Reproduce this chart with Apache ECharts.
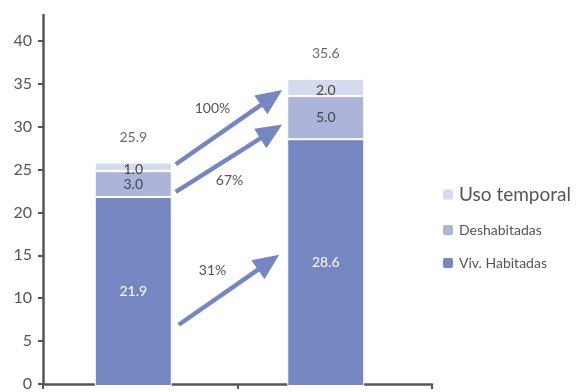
<!DOCTYPE html>
<html><head><meta charset="utf-8">
<script src="https://cdn.jsdelivr.net/npm/echarts@6/dist/echarts.min.js"></script>
<style>html,body{margin:0;padding:0;background:#fff}#c{width:577px;height:392px}</style>
</head><body><div id="c"></div>
<script>
var categories = ['2001', '2011'];
var habitadas = [21.9, 28.6];
var deshabitadas = [3.0, 5.0];
var usoTemporal = [1.0, 2.0];
var totals = [25.9, 35.6];
var yTicks = [0, 5, 10, 15, 20, 25, 30, 35, 40];
// growth arrows: [label, start value at cat 0, end value at cat 1]
var arrowLabels = ['100%', '67%', '31%'];
var arrowFrom = [25.7, 22.5, 7.1];
var arrowTo = [34.3, 30.3, 15.2];

var FONT = 'Lato, "DejaVu Sans", sans-serif';
var C1 = '#7686C1', C2 = '#ACB4DA', C3 = '#D5DAEE', GRAY = '#555';
var chart = echarts.init(document.getElementById('c'));
var barW = 77;
function segLabel(color) {
  return {show: true, position: 'inside', color: color, fontFamily: FONT, fontSize: 14,
    formatter: function (p) { return p.value.toFixed(1); }};
}
chart.setOption({
  animation: false,
  grid: [
    {left: 37, right: 155, top: 15, bottom: 6},
    {left: 43, right: 145, top: 15, bottom: 6}
  ],
  legend: {
    orient: 'vertical', left: 441, top: 185, padding: 0, itemWidth: 12, itemHeight: 12, itemGap: 19,
    data: ['Uso temporal', 'Deshabitadas', 'Viv. Habitadas'],
    textStyle: {fontFamily: FONT, fontSize: 14, color: GRAY,
      rich: {big: {fontFamily: FONT, fontSize: 19, color: GRAY}}},
    formatter: function (n) { return n === 'Uso temporal' ? '{big|' + n + '}' : n; }
  },
  xAxis: [
    {type: 'category', data: categories, gridIndex: 0,
      axisLine: {show: false}, axisTick: {show: false}, axisLabel: {show: false}},
    {type: 'category', data: categories, gridIndex: 1,
      axisLine: {lineStyle: {color: GRAY, width: 2.5}},
      axisTick: {show: true, length: 5, lineStyle: {color: GRAY, width: 2}},
      axisLabel: {show: false}}
  ],
  yAxis: [
    {type: 'value', min: 0, max: 43, gridIndex: 0, show: false},
    {type: 'value', min: 0, max: 43, gridIndex: 1,
      splitLine: {show: false},
      axisLine: {show: true, lineStyle: {color: GRAY, width: 2.5}},
      axisTick: {show: true, length: 5, customValues: yTicks, lineStyle: {color: GRAY, width: 2}},
      axisLabel: {customValues: yTicks, color: GRAY, fontFamily: FONT, fontSize: 16, margin: 11}}
  ],
  series: [
    {name: 'Viv. Habitadas', type: 'bar', stack: 's', barWidth: barW, data: habitadas,
      itemStyle: {color: C1, borderColor: '#fff', borderWidth: 1}, label: segLabel('#fff')},
    {name: 'Deshabitadas', type: 'bar', stack: 's', barWidth: barW, data: deshabitadas,
      itemStyle: {color: C2, borderColor: '#fff', borderWidth: 1}, label: segLabel('#444')},
    {name: 'Uso temporal', type: 'bar', stack: 's', barWidth: barW, data: usoTemporal,
      itemStyle: {color: C3, borderColor: '#fff', borderWidth: 1},
      label: Object.assign(segLabel('#444'), {offset: [0, 3]})},
    {name: 'Total', type: 'scatter', data: totals, symbolSize: 0, silent: true,
      label: {show: true, position: 'top', distance: 18, color: '#444', fontFamily: FONT, fontSize: 14,
        formatter: function (p) { return p.value.toFixed(1); }}}
  ]
});

function drawArrows() {
  var els = [];
  for (var i = 0; i < arrowLabels.length; i++) {
    var a = chart.convertToPixel({xAxisIndex: 0, yAxisIndex: 0}, [0, arrowFrom[i]]);
    var b = chart.convertToPixel({xAxisIndex: 0, yAxisIndex: 0}, [1, arrowTo[i]]);
    var x0 = a[0] + barW / 2 + 4 + (i === 2 ? 3 : 0), y0 = a[1];
    var x1 = b[0] - barW / 2 - 5 - (i === 2 ? 3 : 0), y1 = b[1];
    var dx = x1 - x0, dy = y1 - y0, L = Math.sqrt(dx * dx + dy * dy);
    var ux = dx / L, uy = dy / L, px = -uy, py = ux;
    var hl = 26, hw = 11.5;
    var bx = x1 - ux * hl, by = y1 - uy * hl;
    els.push({type: 'line', shape: {x1: x0, y1: y0, x2: bx + ux * 2, y2: by + uy * 2},
      style: {stroke: C1, lineWidth: 4.5}, silent: true});
    els.push({type: 'polygon', shape: {points: [[x1, y1], [bx + px * hw, by + py * hw], [bx - px * hw, by - py * hw]]},
      style: {fill: C1}, silent: true});
  }
  for (var j = 0; j < arrowLabels.length; j++) {
    var a2 = chart.convertToPixel({xAxisIndex: 0, yAxisIndex: 0}, [0, arrowFrom[j]]);
    var b2 = chart.convertToPixel({xAxisIndex: 0, yAxisIndex: 0}, [1, arrowTo[j]]);
    var mx = (a2[0] + b2[0]) / 2, my = (a2[1] + b2[1]) / 2;
    var off = j === 1 ? [0, 22] : [-17, -19];
    els.push({type: 'text', x: mx + off[0], y: my + off[1],
      style: {text: arrowLabels[j], fill: GRAY, font: '14px ' + FONT, align: 'center', verticalAlign: 'middle'}, silent: true});
  }
  chart.setOption({graphic: {elements: els}});
}
drawArrows();
</script></body></html>
